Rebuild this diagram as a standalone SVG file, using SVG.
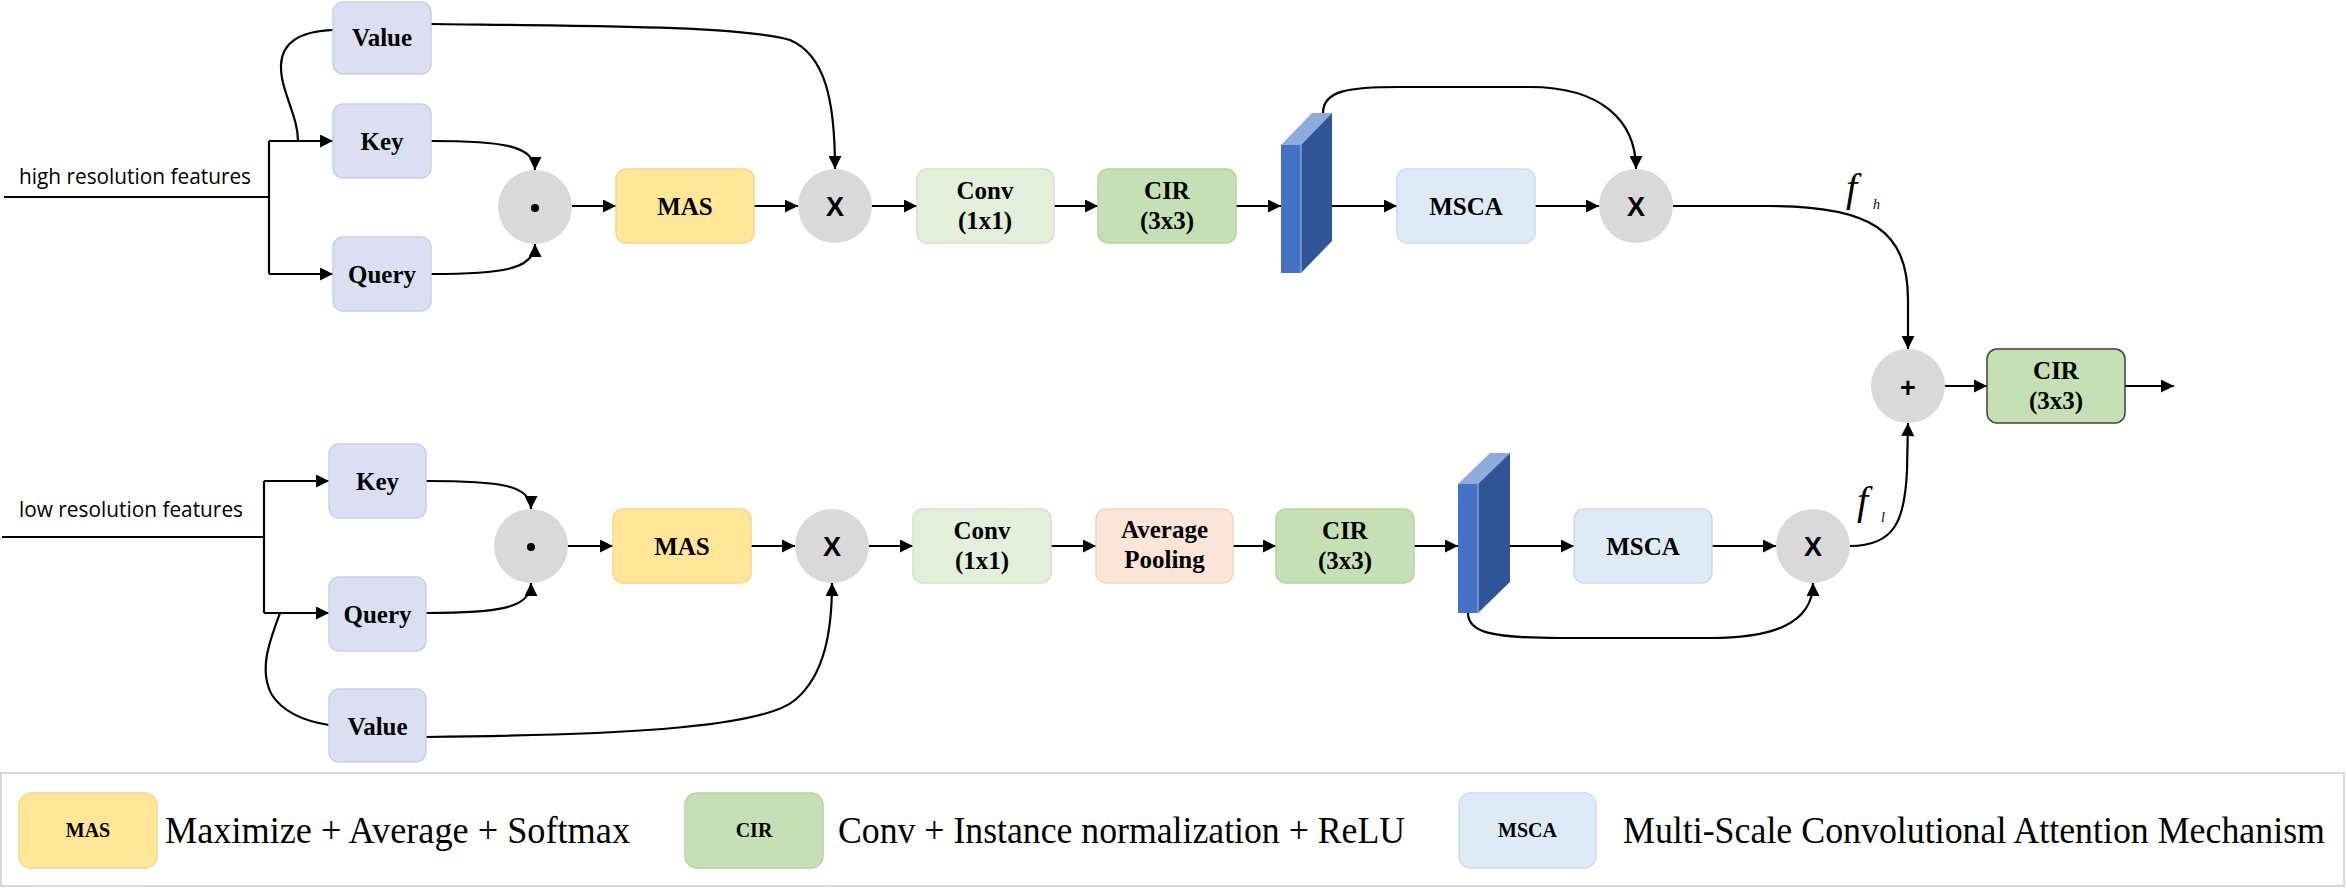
<svg xmlns="http://www.w3.org/2000/svg" width="2346" height="888" viewBox="0 0 2346 888">
<style>
.bx{stroke-width:1.5}
.kqv{fill:#DAE0F1;stroke:#C9D0E4}
.mas{fill:#FFE699;stroke:#F2D88A}
.conv{fill:#E2EFDA;stroke:#D2E2C8}
.cir{fill:#C5E0B4;stroke:#B6D3A3}
.msca{fill:#DEEBF7;stroke:#CCDAEA}
.avg{fill:#FBE5D6;stroke:#EED5C4}
.op{fill:#D9D9D9}
.t{font-family:"Liberation Serif","Times New Roman",serif;font-weight:bold;font-size:25px;fill:#000;text-anchor:middle}
.ot{font-family:"Liberation Sans",Arial,sans-serif;font-weight:bold;font-size:27px;fill:#000;text-anchor:middle}
.lbl{font-family:"Open Sans","Liberation Sans",sans-serif;font-size:21px;fill:#000}
.lt{font-family:"Liberation Serif","Times New Roman",serif;font-weight:bold;font-size:20px;fill:#000;text-anchor:middle}
.lg{font-family:"Liberation Serif","Times New Roman",serif;font-size:37px;fill:#000}
.fi{font-family:"Liberation Serif","Times New Roman",serif;font-style:italic;fill:#000}
.c{fill:none;stroke:#000;stroke-width:2.2}
.a{marker-end:url(#ah)}
.front{fill:#4472C4}
.side{fill:#2F5597}
.top{fill:#8FAADC}
</style>
<defs>
<marker id="ah" viewBox="0 0 10 10" refX="10" refY="5" markerUnits="userSpaceOnUse" markerWidth="15" markerHeight="13" orient="auto">
<path d="M0,0 L10,5 L0,10 z" fill="#000"/>
</marker>
</defs>
<rect width="2346" height="888" fill="#fff"/>

<g id="connectors">
<path class="c" d="M4,197 L269,197 M269,141 L269,274"/>
<path class="c a" d="M269,141 L333,141"/>
<path class="c a" d="M269,274 L333,274"/>
<path class="c" d="M298,141 C298,115 280,90 281,65 C282,40 305,31 333,30"/>
<path class="c a" d="M431,141 C500,141 535,145 535,170"/>
<path class="c a" d="M431,274 C500,274 535,270 535,244"/>
<path class="c a" d="M572,206 L616,206"/>
<path class="c a" d="M754,206 L798,206"/>
<path class="c a" d="M431,24 C600,26 740,26 790,40 C825,55 835,100 835,169"/>
<path class="c a" d="M872,206 L917,206"/>
<path class="c a" d="M1054,206 L1098,206"/>
<path class="c a" d="M1236,206 L1281,206"/>
<path class="c a" d="M1332,206 L1397,206"/>
<path class="c a" d="M1535,206 L1599,206"/>
<path class="c a" d="M1323,113 C1323,90 1350,87 1400,87 L1530,87 C1600,87 1636,120 1636,169"/>
<path class="c a" d="M1673,206 L1770,206 C1870,206 1908,230 1908,300 L1908,349"/>
<path class="c a" d="M1945,386 L1987,386"/>
<path class="c a" d="M2125,386 L2174,386"/>
<path class="c" d="M2,537 L264,537 M264,481 L264,613"/>
<path class="c a" d="M264,481 L329,481"/>
<path class="c a" d="M264,613 L329,613"/>
<path class="c" d="M280,613 C270,640 258,670 272,695 C285,715 310,722 329,725"/>
<path class="c a" d="M426,481 C500,481 531,485 531,509"/>
<path class="c a" d="M426,613 C500,613 531,608 531,583"/>
<path class="c a" d="M568,546 L613,546"/>
<path class="c a" d="M751,546 L795,546"/>
<path class="c a" d="M426,737 C600,735 760,730 795,700 C825,675 832,630 832,583"/>
<path class="c a" d="M869,546 L913,546"/>
<path class="c a" d="M1051,546 L1096,546"/>
<path class="c a" d="M1233,546 L1276,546"/>
<path class="c a" d="M1414,546 L1458,546"/>
<path class="c a" d="M1510,546 L1574,546"/>
<path class="c a" d="M1712,546 L1776,546"/>
<path class="c a" d="M1468,613 C1468,632 1490,638 1560,638 L1710,638 C1770,638 1813,625 1813,583"/>
<path class="c a" d="M1850,546 C1895,546 1905,520 1907,470 L1908,423"/>
</g>

<text class="lbl" x="19" y="184" textLength="232" lengthAdjust="spacingAndGlyphs">high resolution features</text>
<text class="lbl" x="19" y="517" textLength="224" lengthAdjust="spacingAndGlyphs">low resolution features</text>

<g id="h-value"><rect class="bx kqv" x="333" y="2" width="98" height="72" rx="10"/><text class="t" x="382" y="46">Value</text></g>
<g id="h-key"><rect class="bx kqv" x="333" y="104" width="98" height="74" rx="10"/><text class="t" x="382" y="150">Key</text></g>
<g id="h-query"><rect class="bx kqv" x="333" y="237" width="98" height="74" rx="10"/><text class="t" x="382" y="283">Query</text></g>
<g id="h-dot"><circle class="op" cx="535" cy="207" r="37"/><circle cx="535" cy="208" r="4" fill="#000"/></g>
<g id="h-mas"><rect class="bx mas" x="616" y="169" width="138" height="74" rx="10"/><text class="t" x="685" y="215">MAS</text></g>
<g id="h-mul1"><circle class="op" cx="835" cy="206" r="37"/><text class="ot" x="835" y="216">X</text></g>
<g id="h-conv"><rect class="bx conv" x="917" y="169" width="137" height="74" rx="10"/><text class="t" x="985" y="199">Conv</text><text class="t" x="985" y="229">(1x1)</text></g>
<g id="h-cir"><rect class="bx cir" x="1098" y="169" width="138" height="74" rx="10"/><text class="t" x="1167" y="199">CIR</text><text class="t" x="1167" y="229">(3x3)</text></g>
<g id="h-feat"><polygon class="top" points="1281,145 1312,113 1332,113 1301,145"/><polygon class="side" points="1301,145 1332,113 1332,241 1301,273"/><rect class="front" x="1281" y="145" width="20" height="128"/><line x1="1301" y1="145" x2="1301" y2="273" stroke="#A9BDE6" stroke-width="1"/></g>
<g id="h-msca"><rect class="bx msca" x="1397" y="169" width="138" height="74" rx="10"/><text class="t" x="1466" y="215">MSCA</text></g>
<g id="h-mul2"><circle class="op" cx="1636" cy="206" r="37"/><text class="ot" x="1636" y="216">X</text></g>
<g id="fh"><text class="fi" x="1846" y="201" font-size="40">f</text><text class="fi" x="1873" y="209" font-size="14">h</text></g>

<g id="add"><circle class="op" cx="1908" cy="386" r="37"/><text class="ot" x="1908" y="397" font-size="30">+</text></g>
<g id="out-cir"><rect x="1987" y="349" width="138" height="74" rx="10" fill="#C5E0B4" stroke="#404040" stroke-width="1.5"/><text class="t" x="2056" y="379">CIR</text><text class="t" x="2056" y="409">(3x3)</text></g>

<g id="l-key"><rect class="bx kqv" x="329" y="444" width="97" height="74" rx="10"/><text class="t" x="377.5" y="490">Key</text></g>
<g id="l-query"><rect class="bx kqv" x="329" y="577" width="97" height="74" rx="10"/><text class="t" x="377.5" y="623">Query</text></g>
<g id="l-value"><rect class="bx kqv" x="329" y="689" width="97" height="73" rx="10"/><text class="t" x="377.5" y="735">Value</text></g>
<g id="l-dot"><circle class="op" cx="531" cy="546" r="37"/><circle cx="531" cy="547" r="4" fill="#000"/></g>
<g id="l-mas"><rect class="bx mas" x="613" y="509" width="138" height="74" rx="10"/><text class="t" x="682" y="555">MAS</text></g>
<g id="l-mul1"><circle class="op" cx="832" cy="546" r="37"/><text class="ot" x="832" y="556">X</text></g>
<g id="l-conv"><rect class="bx conv" x="913" y="509" width="138" height="74" rx="10"/><text class="t" x="982" y="539">Conv</text><text class="t" x="982" y="569">(1x1)</text></g>
<g id="l-avg"><rect class="bx avg" x="1096" y="509" width="137" height="74" rx="10"/><text class="t" x="1164.5" y="538">Average</text><text class="t" x="1164.5" y="568">Pooling</text></g>
<g id="l-cir"><rect class="bx cir" x="1276" y="509" width="138" height="74" rx="10"/><text class="t" x="1345" y="539">CIR</text><text class="t" x="1345" y="569">(3x3)</text></g>
<g id="l-feat"><polygon class="top" points="1458,484 1490,453 1510,453 1478,484"/><polygon class="side" points="1478,484 1510,453 1510,582 1478,613"/><rect class="front" x="1458" y="484" width="20" height="129"/><line x1="1478" y1="484" x2="1478" y2="613" stroke="#A9BDE6" stroke-width="1"/></g>
<g id="l-msca"><rect class="bx msca" x="1574" y="509" width="138" height="74" rx="10"/><text class="t" x="1643" y="555">MSCA</text></g>
<g id="l-mul2"><circle class="op" cx="1813" cy="546" r="37"/><text class="ot" x="1813" y="556">X</text></g>
<g id="fl"><text class="fi" x="1857" y="514" font-size="40">f</text><text class="fi" x="1881" y="522" font-size="14">l</text></g>

<g id="legend">
<rect x="1" y="773" width="2343" height="113" fill="none" stroke="#D9D9D9" stroke-width="2"/>
<rect class="bx mas" x="19" y="793" width="138" height="75" rx="12"/><text class="lt" x="88" y="837">MAS</text>
<text class="lg" x="165" y="843" textLength="465" lengthAdjust="spacingAndGlyphs">Maximize + Average + Softmax</text>
<rect class="bx cir" x="685" y="793" width="138" height="75" rx="12"/><text class="lt" x="754" y="837">CIR</text>
<text class="lg" x="838" y="843" textLength="567" lengthAdjust="spacingAndGlyphs">Conv + Instance normalization + ReLU</text>
<rect class="bx msca" x="1459" y="793" width="137" height="75" rx="12"/><text class="lt" x="1527.5" y="837">MSCA</text>
<text class="lg" x="1623" y="843" textLength="702" lengthAdjust="spacingAndGlyphs">Multi-Scale Convolutional Attention Mechanism</text>
</g>
</svg>
